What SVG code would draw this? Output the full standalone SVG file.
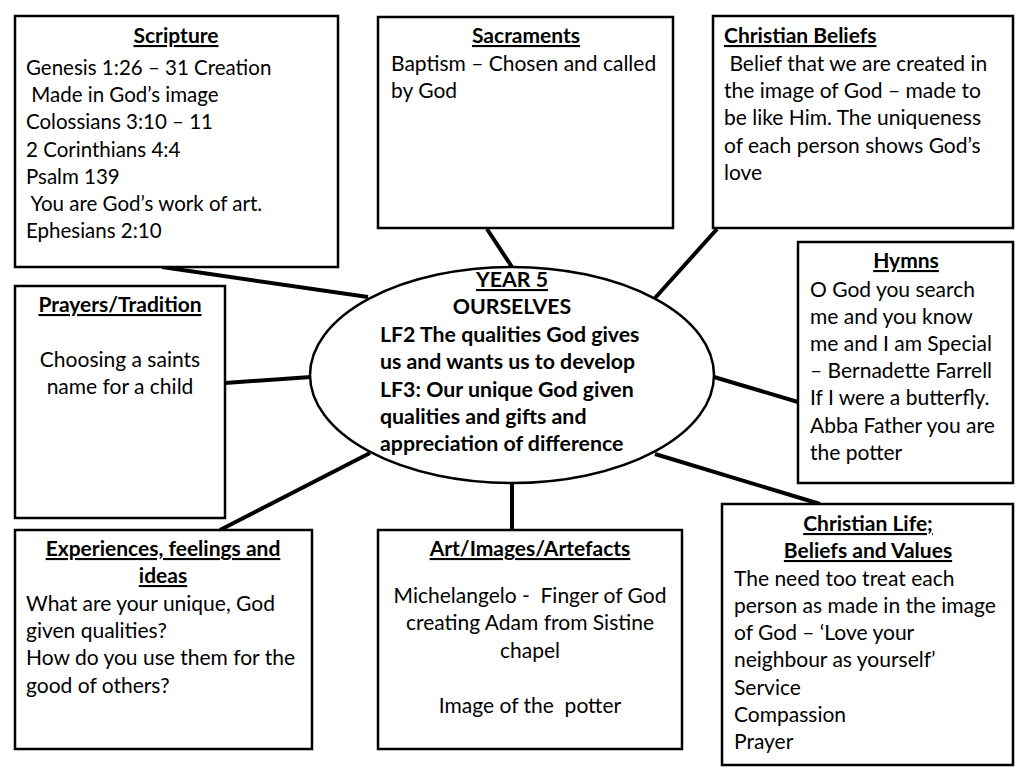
<svg xmlns="http://www.w3.org/2000/svg" width="1024" height="768" viewBox="0 0 1024 768">
<style>
.box{fill:#fff;stroke:#000;stroke-width:2.5}
.t{font-family:Lato,"Open Sans",sans-serif;font-size:21px;fill:#000}
.s{font-size:20.5px}
.b{font-weight:bold}
.e{font-size:21.3px}
.u{font-weight:bold;text-decoration:underline}
.c{text-anchor:middle}
.con line{stroke:#000;stroke-width:4}
</style>
<rect width="1024" height="768" fill="#fff"/>
<g class="con">
<line x1="162" y1="267" x2="368" y2="297"/>
<line x1="487" y1="229" x2="512" y2="267"/>
<line x1="717" y1="229" x2="655" y2="298"/>
<line x1="798" y1="402" x2="714" y2="377"/>
<line x1="820" y1="504" x2="655" y2="454"/>
<line x1="512" y1="477" x2="512" y2="530"/>
<line x1="220" y1="530" x2="370" y2="453"/>
<line x1="225" y1="383" x2="311" y2="377"/>
</g>
<g id="scripture">
<rect class="box" x="15" y="16" width="323" height="251"/>
<text class="t u c" x="176" y="43">Scripture</text>
<text class="t s" x="26" y="75">Genesis 1:26 – 31 Creation</text>
<text class="t s" x="26" y="102" xml:space="preserve"> Made in God’s image</text>
<text class="t s" x="26" y="129">Colossians 3:10 – 11</text>
<text class="t s" x="26" y="157">2 Corinthians 4:4</text>
<text class="t s" x="26" y="184">Psalm 139</text>
<text class="t s" x="26" y="211" xml:space="preserve"> You are God’s work of art.</text>
<text class="t s" x="26" y="238">Ephesians 2:10</text>
</g>
<g id="sacraments">
<rect class="box" x="378" y="17" width="295" height="211"/>
<text class="t u c" x="526" y="43">Sacraments</text>
<text class="t" x="391" y="71">Baptism – Chosen and called</text>
<text class="t" x="391" y="98">by God</text>
</g>
<g id="christian-beliefs">
<rect class="box" x="713" y="16" width="300" height="212"/>
<text class="t u" x="724" y="43">Christian Beliefs</text>
<text class="t" x="724" y="71" xml:space="preserve"> Belief that we are created in</text>
<text class="t" x="724" y="98">the image of God – made to</text>
<text class="t" x="724" y="125">be like Him. The uniqueness</text>
<text class="t" x="724" y="153">of each person shows God’s</text>
<text class="t" x="724" y="180">love</text>
</g>
<g id="prayers">
<rect class="box" x="15" y="286" width="210" height="232"/>
<text class="t u c" x="120" y="312">Prayers/Tradition</text>
<text class="t c" x="120" y="367">Choosing a saints</text>
<text class="t c" x="120" y="394">name for a child</text>
</g>
<g id="hymns">
<rect class="box" x="798" y="242" width="215" height="241"/>
<text class="t u c" x="906" y="268">Hymns</text>
<text class="t" x="810" y="297">O God you search</text>
<text class="t" x="810" y="324">me and you know</text>
<text class="t" x="810" y="351">me and I am Special</text>
<text class="t" x="810" y="378">– Bernadette Farrell</text>
<text class="t" x="810" y="405">If I were a butterfly.</text>
<text class="t" x="810" y="433">Abba Father you are</text>
<text class="t" x="810" y="460">the potter</text>
</g>
<g id="centre">
<ellipse cx="512" cy="375" rx="202" ry="108" fill="#fff" stroke="#000" stroke-width="2.5"/>
<text class="t u e c" x="512" y="287">YEAR 5</text>
<text class="t b e c" x="512" y="314">OURSELVES</text>
<text class="t b e" x="380" y="342">LF2 The qualities God gives</text>
<text class="t b e" x="380" y="369">us and wants us to develop</text>
<text class="t b e" x="380" y="397">LF3: Our unique God given</text>
<text class="t b e" x="380" y="424">qualities and gifts and</text>
<text class="t b e" x="380" y="451">appreciation of difference</text>
</g>
<g id="experiences">
<rect class="box" x="15" y="530" width="297" height="219"/>
<text class="t u c" x="163" y="556">Experiences, feelings and</text>
<text class="t u c" x="163" y="583">ideas</text>
<text class="t" x="26" y="611">What are your unique, God</text>
<text class="t" x="26" y="638">given qualities?</text>
<text class="t" x="26" y="665">How do you use them for the</text>
<text class="t" x="26" y="693">good of others?</text>
</g>
<g id="art">
<rect class="box" x="378" y="530" width="304" height="219"/>
<text class="t u c" x="530" y="556">Art/Images/Artefacts</text>
<text class="t c" x="530" y="603" xml:space="preserve">Michelangelo -  Finger of God</text>
<text class="t c" x="530" y="630">creating Adam from Sistine</text>
<text class="t c" x="530" y="658">chapel</text>
<text class="t c" x="530" y="713" xml:space="preserve">Image of the  potter</text>
</g>
<g id="christian-life">
<rect class="box" x="722" y="504" width="291" height="261"/>
<text class="t u c" x="868" y="531">Christian Life;</text>
<text class="t u c" x="868" y="558">Beliefs and Values</text>
<text class="t" x="734" y="586">The need too treat each</text>
<text class="t" x="734" y="613">person as made in the image</text>
<text class="t" x="734" y="640">of God – ‘Love your</text>
<text class="t" x="734" y="667">neighbour as yourself’</text>
<text class="t" x="734" y="695">Service</text>
<text class="t" x="734" y="722">Compassion</text>
<text class="t" x="734" y="749">Prayer</text>
</g>
</svg>
